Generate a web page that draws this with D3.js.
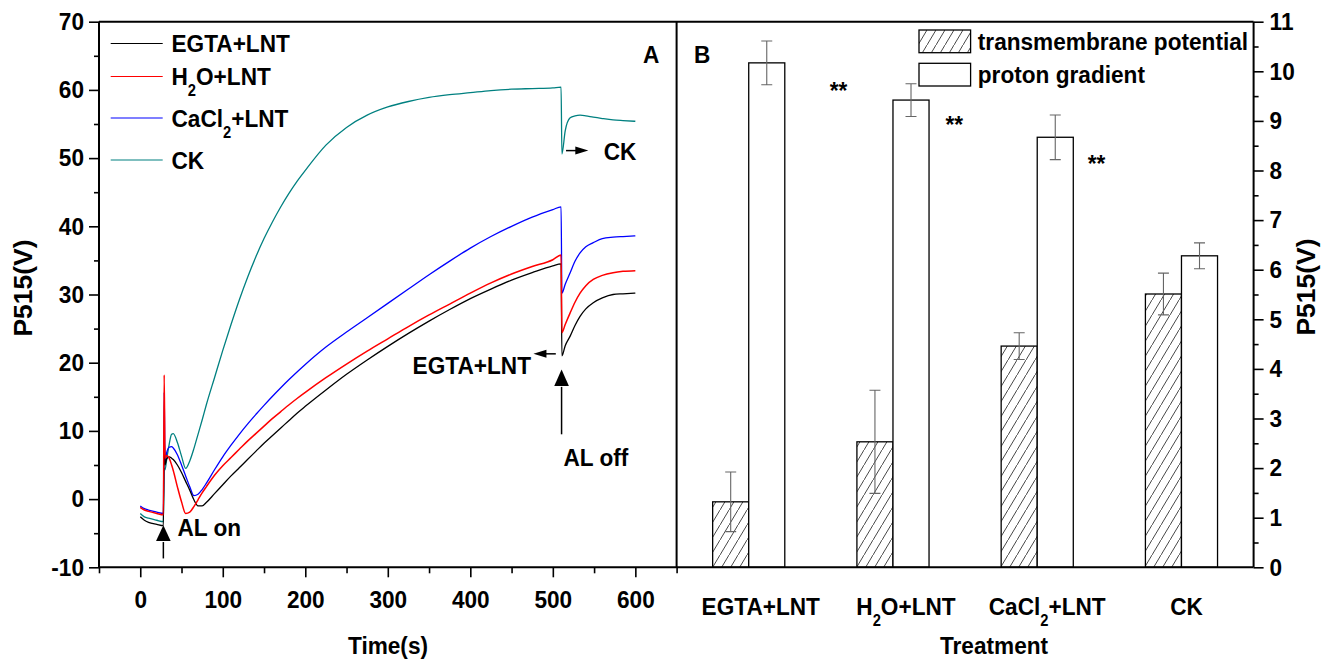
<!DOCTYPE html>
<html><head><meta charset="utf-8">
<script src="https://cdn.jsdelivr.net/npm/d3@7"></script>
<style>
body{margin:0;background:#fff;}
svg text{font-family:"Liberation Sans",Arial,sans-serif;font-weight:bold;font-size:24.6px;fill:#000;}
</style></head><body>
<svg id="c" width="1329" height="661"></svg>
<script>
// ---------------- DATA ----------------
const times = [0,5,10,20,28,29,30,32,35,38,40,45,50,55,60,65,70,75,80,90,100,110,120,130,140,150,160,170,180,190,200,225,250,275,300,325,350,375,400,425,450,475,500,510,511,515,521,527,533,540,549,560,573,585,600];
const egtaLNT = [-2.6,-3.1,-3.4,-3.7,-3.9, 9.0,5.0,5.9,6.2,6.0, 5.8,5.0,3.9,2.6,1.3, -0.1,-1.0,-1.0,-0.5,0.8, 2.1,3.4,4.6,5.8,7.0, 8.2,9.3,10.4,11.5,12.6, 13.6,16.0,18.3,20.4,22.4, 24.3,26.1,27.8,29.4,30.8, 32.1,33.2,34.2,34.5,21.0, 22.5,23.9,25.5,26.8,27.9, 28.8,29.5,30.0,30.1,30.2];
const h2oLNT = [-1.2,-1.6,-1.8,-2.1,-2.3, 18.2,6.0,6.4,6.0,5.0, 4.2,1.8,-0.4,-2.1,-1.9, -1.1,-0.1,0.9,1.8,3.5, 4.9,6.1,7.3,8.5,9.6, 10.7,11.8,12.8,13.8,14.75, 15.65,17.8,19.8,21.7,23.5, 25.3,27.0,28.6,30.2,31.7, 33.0,34.1,35.1,35.8,24.4, 25.6,27.3,28.9,30.2,31.3, 32.2,32.8,33.2,33.4,33.5];
const cacl2LNT = [-1.0,-1.4,-1.6,-1.9,-2.1, 15.7,5.5,6.8,7.6,7.7, 7.5,6.5,5.0,3.4,1.8, 0.5,0.7,1.4,2.3,4.3, 6.2,7.9,9.5,11.0,12.4, 13.75,15.05,16.3,17.5,18.65, 19.75,22.3,24.5,26.6,28.7, 30.8,32.9,34.9,36.8,38.5, 40.0,41.35,42.45,42.85,30.2, 31.5,33.2,34.9,36.1,37.0, 37.6,38.2,38.4,38.5,38.6];
const ckTrace = [-2.1,-2.6,-2.8,-3.1,-3.3, 4.5,4.3,5.8,8.0,9.5, 9.6,8.3,6.3,4.5,5.6, 7.4,9.5,11.6,13.8,17.8, 21.8,25.6,29.2,32.5,35.5, 38.2,40.6,42.8,44.8,46.6, 48.2,51.9,54.5,56.3,57.5, 58.3,58.9,59.3,59.6,59.9, 60.1,60.2,60.3,60.4,50.6, 54.0,55.9,56.2,56.3,56.2, 56.0,55.8,55.6,55.5,55.4];
const seriesLabels = ["EGTA+LNT","H{2}O+LNT","CaCl{2}+LNT","CK"];
const seriesColors = ["#000000","#ff0000","#0000ff","#008080"];
const xTicksA = [0,100,200,300,400,500,600];
const xMinorA = [-50,50,150,250,350,450,550,650];
const yTicksA = [-10,0,10,20,30,40,50,60,70];
const yMinorA = [-5,5,15,25,35,45,55,65];

const categories = ["EGTA+LNT","H{2}O+LNT","CaCl{2}+LNT","CK"];
const transMean = [1.32,2.53,4.46,5.51];
const transErr  = [0.60,1.04,0.27,0.42];
const protonMean = [10.17,9.42,8.67,6.28];
const protonErr  = [0.44,0.33,0.45,0.26];
const starValues = [9.44,8.76,7.97];
const yTicksB = [0,1,2,3,4,5,6,7,8,9,10,11];
const yMinorB = [0.5,1.5,2.5,3.5,4.5,5.5,6.5,7.5,8.5,9.5,10.5];

// annotations (data units)
const alOnArrow = {t:28, tip:-3.85, neck:-6.15, tail:-8.7};
const alOffArrow = {t:510.6, tip:19.0, neck:16.6, tail:9.5};
const egtaArrow = {v:21.3, tip:476.5, tail:503.6};
const ckArrow = {v:51.1, tip:543, tail:516};

// ---------------- LAYOUT ----------------
const SX = 0.92;
const L=99, MID=676.6, R=1253.6, T=21.7, B=567.3;
const svg = d3.select('#c');
const xA = d3.scaleLinear().domain([-50,650]).range([L,MID]);
const yA = d3.scaleLinear().domain([-10,70]).range([B,T]);
const xB = d3.scaleBand().domain(categories).range([MID,R]).padding(0);
const yB = d3.scaleLinear().domain([0,11]).range([B,T]);

function rich(t, s){
  const segs = s.split(/(\{[^}]*\})/).filter(x=>x);
  let sub=false;
  segs.forEach(seg=>{
    if(seg[0]==='{'){ t.append('tspan').text(seg.slice(1,-1)).attr('dy',11).style('font-size','16px'); sub=true; }
    else { const ts=t.append('tspan').text(seg); if(sub){ ts.attr('dy',-11); sub=false; } }
  });
  return t;
}
function label(x,y,s,anchor='start',size=null){
  const t = svg.append('text').attr('transform',`translate(${x},${y}) scale(${SX},1)`).attr('text-anchor',anchor);
  if(size) t.style('font-size',size+'px');
  return rich(t,s);
}
function squeeze(g){
  g.selectAll('text').each(function(){
    const t=d3.select(this); const x=+(t.attr('x')||0);
    t.attr('x',x/SX).attr('transform',`scale(${SX},1)`);
  });
}
function styleAxis(g){
  g.select('.domain').remove();
  g.selectAll('line').attr('stroke','#000').attr('stroke-width',1.6);
}

// hatch pattern
const defs = svg.append('defs');
defs.append('pattern').attr('id','hatch').attr('patternUnits','userSpaceOnUse')
  .attr('width',9).attr('height',15)
  .append('path').attr('d','M-1.5,17.5 L10.5,-2.5').attr('stroke','#333').attr('stroke-width',0.9).attr('fill','none');

// ---------------- PANEL A ----------------
const gx = svg.append('g').attr('transform',`translate(0,${B})`)
  .call(d3.axisBottom(xA).tickValues(xTicksA).tickSize(10).tickPadding(13).tickFormat(d=>String(d)));
styleAxis(gx); squeeze(gx);
const gxm = svg.append('g').attr('transform',`translate(0,${B})`)
  .call(d3.axisBottom(xA).tickValues(xMinorA).tickSize(6).tickFormat(''));
styleAxis(gxm);
const gy = svg.append('g').attr('transform',`translate(${L},0)`)
  .call(d3.axisLeft(yA).tickValues(yTicksA).tickSize(10).tickPadding(5).tickFormat(d=>String(d)));
styleAxis(gy); squeeze(gy);
const gym = svg.append('g').attr('transform',`translate(${L},0)`)
  .call(d3.axisLeft(yA).tickValues(yMinorA).tickSize(5).tickFormat(''));
styleAxis(gym);

const seriesData = [egtaLNT,h2oLNT,cacl2LNT,ckTrace];
const line = d3.line().x((d,i)=>xA(times[i])).y(d=>yA(d)).curve(d3.curveMonotoneX);
[3,2,0,1].forEach(k=>{
  svg.append('path').datum(seriesData[k]).attr('d',line)
    .attr('fill','none').attr('stroke',seriesColors[k]).attr('stroke-width',k===1?1.5:1.3)
    .attr('stroke-linejoin','round');
});

// legend A
const legY = [43.5,76.5,118,160];
seriesLabels.forEach((s,i)=>{
  svg.append('line').attr('x1',110.7).attr('x2',162.7).attr('y1',legY[i]).attr('y2',legY[i])
    .attr('stroke',seriesColors[i]).attr('stroke-width',1.1);
  label(171.5, legY[i]+8.8, s);
});
label(643, 62.7, 'A');

// annotations
function vArrow(a){
  const x=xA(a.t);
  svg.append('line').attr('x1',x).attr('x2',x).attr('y1',yA(a.tail)).attr('y2',yA(a.neck)+1).attr('stroke','#000').attr('stroke-width',1.5);
  svg.append('path').attr('d',`M${x},${yA(a.tip)} L${x-7.3},${yA(a.neck)} L${x+7.3},${yA(a.neck)} Z`).attr('fill','#000');
}
function hArrow(a){
  const y=yA(a.v), xt=xA(a.tip), xs=xA(a.tail), dir = xs>xt?1:-1;
  svg.append('line').attr('x1',xs).attr('x2',xt+dir*10).attr('y1',y).attr('y2',y).attr('stroke','#000').attr('stroke-width',1.5);
  svg.append('path').attr('d',`M${xt},${y} L${xt+dir*13},${y-4} L${xt+dir*13},${y+4} Z`).attr('fill','#000');
}
vArrow(alOnArrow); vArrow(alOffArrow); hArrow(egtaArrow); hArrow(ckArrow);
label(xA(45), yA(-5.45), 'AL on');
label(xA(512.8), yA(4.8), 'AL off');
label(xA(473.5), yA(18.3), 'EGTA+LNT', 'end');
label(xA(561.6), yA(49.75), 'CK');

// titles
label(388, 654, 'Time(s)', 'middle');
svg.append('text').attr('transform','translate(32,288) rotate(-90)').attr('text-anchor','middle').style('font-size','26.5px').text('P515(V)');

// ---------------- PANEL B ----------------
const gr = svg.append('g').attr('transform',`translate(${R},0)`)
  .call(d3.axisRight(yB).tickValues(yTicksB).tickSize(10).tickPadding(6).tickFormat(d=>String(d)));
styleAxis(gr); squeeze(gr);
const grm = svg.append('g').attr('transform',`translate(${R},0)`)
  .call(d3.axisRight(yB).tickValues(yMinorB).tickSize(5).tickFormat(''));
styleAxis(grm);

const bw = xB.bandwidth()*0.25;
categories.forEach((c,i)=>{
  const cx = xB(c)+xB.bandwidth()/2;
  svg.append('rect').attr('x',cx-bw).attr('y',yB(transMean[i])).attr('width',bw).attr('height',yB(0)-yB(transMean[i]))
    .attr('fill','url(#hatch)').attr('stroke','#000').attr('stroke-width',1.3);
  svg.append('rect').attr('x',cx).attr('y',yB(protonMean[i])).attr('width',bw).attr('height',yB(0)-yB(protonMean[i]))
    .attr('fill','#fff').attr('stroke','#000').attr('stroke-width',1.3);
  [[cx-bw/2,transMean[i],transErr[i]],[cx+bw/2,protonMean[i],protonErr[i]]].forEach(([x,m,e])=>{
    svg.append('path').attr('d',`M${x},${yB(m+e)}V${yB(m-e)}M${x-5.5},${yB(m+e)}H${x+5.5}M${x-5.5},${yB(m-e)}H${x+5.5}`)
      .attr('stroke','#666').attr('stroke-width',1.1).attr('fill','none');
  });
});
const starDx = [81,52.5,50.5];
starValues.forEach((v,i)=>{
  const cx = xB(categories[i])+xB.bandwidth()/2;
  label(cx+starDx[i], yB(v), '**');
});
const catDx = [12,13,10,5];
categories.forEach((c,i)=>{
  label(xB(c)+xB.bandwidth()/2+catDx[i], 615, c, 'middle');
});
label(994, 654, 'Treatment', 'middle');
svg.append('text').attr('transform','translate(1315,287) rotate(-90)').attr('text-anchor','middle').style('font-size','26.5px').text('P515(V)');
label(694, 62.7, 'B');

// legend B
svg.append('rect').attr('x',919).attr('y',30).attr('width',51.6).attr('height',22.7).attr('fill','url(#hatch)').attr('stroke','#000').attr('stroke-width',1.3);
svg.append('rect').attr('x',919).attr('y',63.3).attr('width',51.6).attr('height',22.7).attr('fill','#fff').attr('stroke','#000').attr('stroke-width',1.3);
label(977.8, 50.3, 'transmembrane potential');
label(977.8, 83.3, 'proton gradient');

// frame
const fr = svg.append('g').attr('stroke','#000').attr('stroke-width',2).attr('fill','none');
fr.append('path').attr('d',`M${L},${T}H${R}M${L},${B}H${R}M${L},${T}V${B}M${MID},${T}V${B}M${R},${T}V${B}`);
</script>
</body></html>
